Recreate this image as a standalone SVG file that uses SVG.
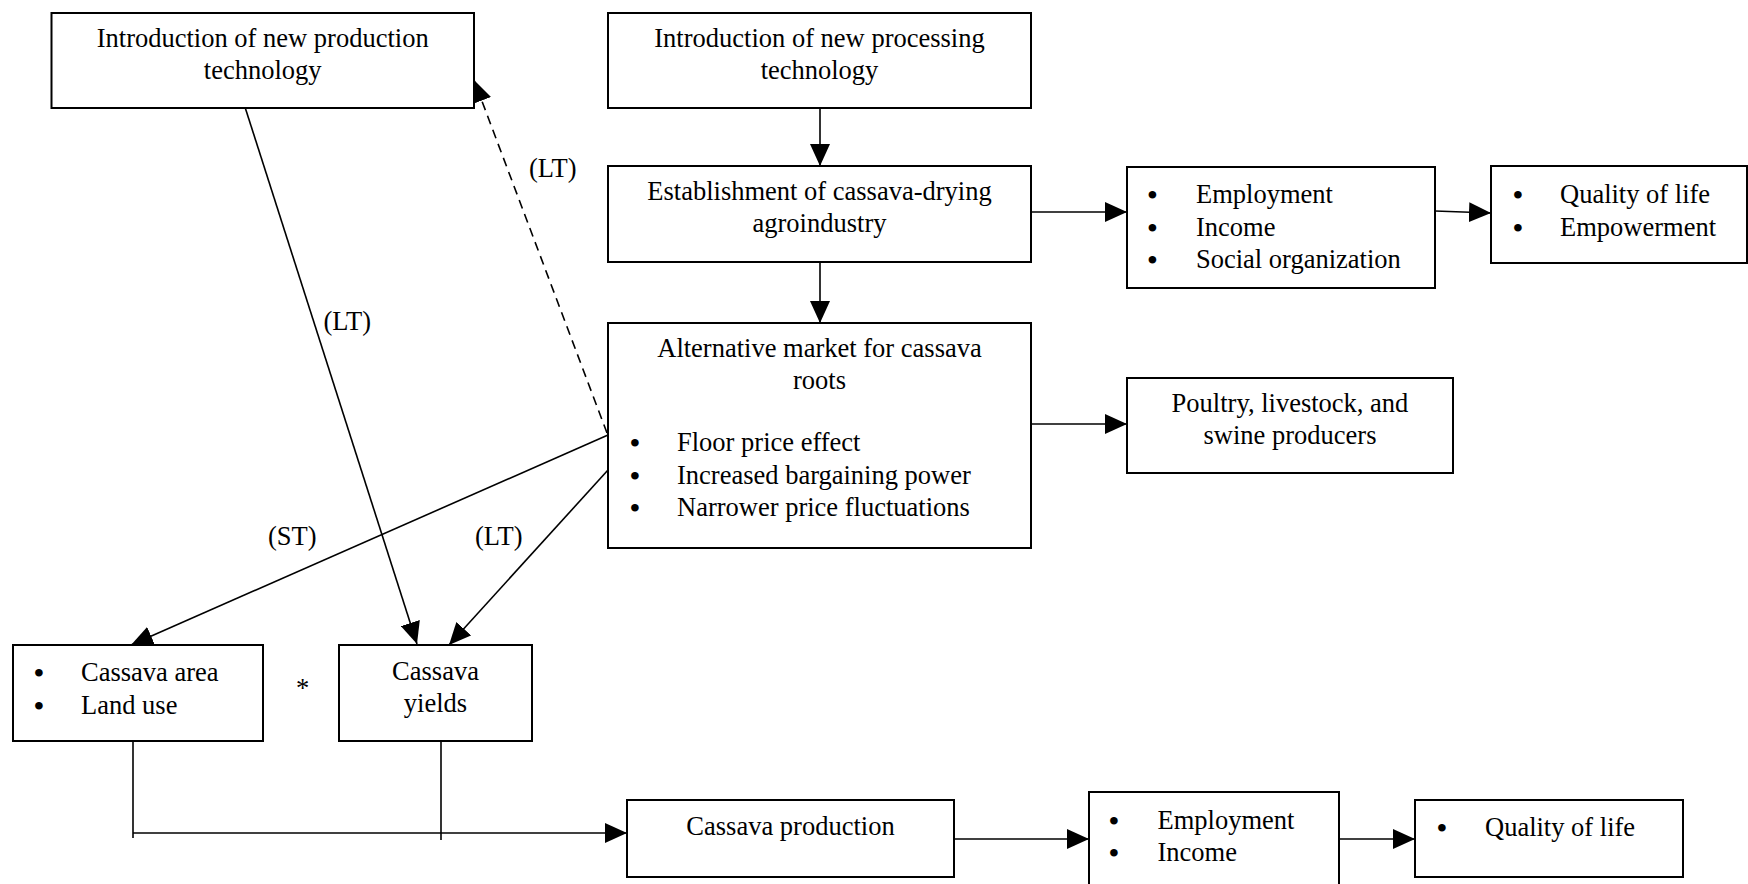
<svg xmlns="http://www.w3.org/2000/svg" width="1748" height="884" viewBox="0 0 1748 884">
<defs>
<marker id="ah" markerUnits="userSpaceOnUse" markerWidth="22" markerHeight="20" refX="22" refY="10" orient="auto"><path d="M0,0 L22,10 L0,20 z" fill="#000"/></marker>
</defs>
<style>
.box{fill:#fff;stroke:#000;stroke-width:2}
text{font-family:"Liberation Serif","Times New Roman",serif;font-size:26.5px;fill:#000}
.c{text-anchor:middle}
.b{text-anchor:middle;font-weight:bold;font-size:28px}
.ln{stroke:#000;stroke-width:1.6;fill:none}
.arr{marker-end:url(#ah)}
.dash{stroke-dasharray:9 6}
</style>
<rect x="0" y="0" width="1748" height="884" fill="#fff"/>
<g id="connectors">
<line class="ln arr" x1="820" y1="108" x2="820" y2="166"/>
<line class="ln arr" x1="820" y1="262" x2="820" y2="323"/>
<line class="ln arr" x1="1031" y1="212" x2="1127" y2="212"/>
<line class="ln arr" x1="1435" y1="211" x2="1491" y2="213"/>
<line class="ln arr" x1="1031" y1="424" x2="1127" y2="424"/>
<line class="ln arr" x1="244" y1="104" x2="417" y2="644"/>
<line class="ln arr dash" x1="607" y1="433" x2="474" y2="80"/>
<line class="ln arr" x1="608" y1="435" x2="131" y2="645"/>
<line class="ln arr" x1="608" y1="470" x2="449" y2="645"/>
<line class="ln" x1="133" y1="741" x2="133" y2="838"/>
<line class="ln" x1="441" y1="741" x2="441" y2="840"/>
<line class="ln arr" x1="133" y1="833" x2="627" y2="833"/>
<line class="ln arr" x1="954" y1="839" x2="1089" y2="839"/>
<line class="ln arr" x1="1339" y1="839" x2="1415" y2="839"/>
<text x="323.5" y="330">(LT)</text>
<text x="529" y="177">(LT)</text>
<text x="268" y="545">(ST)</text>
<text x="475" y="545">(LT)</text>
</g>
<g id="n-prod-tech">
<rect class="box" x="51.5" y="13" width="422.5" height="95"/>
<text class="c" x="262.7" y="47">Introduction of new production</text>
<text class="c" x="262.7" y="79">technology</text>
</g>
<g id="n-proc-tech">
<rect class="box" x="608" y="13" width="423" height="95"/>
<text class="c" x="819.5" y="47">Introduction of new processing</text>
<text class="c" x="819.5" y="79">technology</text>
</g>
<g id="n-agroindustry">
<rect class="box" x="608" y="166" width="423" height="96"/>
<text class="c" x="819.5" y="200">Establishment of cassava-drying</text>
<text class="c" x="819.5" y="232">agroindustry</text>
</g>
<g id="n-market">
<rect class="box" x="608" y="323" width="423" height="225"/>
<text class="c" x="819.5" y="357">Alternative market for cassava</text>
<text class="c" x="819.5" y="389">roots</text>
<text class="b" x="635" y="452">•</text><text x="677" y="451">Floor price effect</text>
<text class="b" x="635" y="485">•</text><text x="677" y="484">Increased bargaining power</text>
<text class="b" x="635" y="517">•</text><text x="677" y="516">Narrower price fluctuations</text>
</g>
<g id="n-employment1">
<rect class="box" x="1127" y="167" width="308" height="121"/>
<text class="b" x="1152.5" y="204">•</text><text x="1196" y="203">Employment</text>
<text class="b" x="1152.5" y="237">•</text><text x="1196" y="236">Income</text>
<text class="b" x="1152.5" y="269">•</text><text x="1196" y="268">Social organization</text>
</g>
<g id="n-quality1">
<rect class="box" x="1491" y="166" width="256" height="97"/>
<text class="b" x="1518" y="204">•</text><text x="1560" y="203">Quality of life</text>
<text class="b" x="1518" y="237">•</text><text x="1560" y="236">Empowerment</text>
</g>
<g id="n-poultry">
<rect class="box" x="1127" y="378" width="326" height="95"/>
<text class="c" x="1290" y="412">Poultry, livestock, and</text>
<text class="c" x="1290" y="444">swine producers</text>
</g>
<g id="n-area">
<rect class="box" x="13" y="645" width="250" height="96"/>
<text class="b" x="39" y="682">•</text><text x="81" y="681">Cassava area</text>
<text class="b" x="39" y="715">•</text><text x="81" y="714">Land use</text>
</g>
<text x="302.6" y="697" class="c">*</text>
<g id="n-yields">
<rect class="box" x="339" y="645" width="193" height="96"/>
<text class="c" x="435.5" y="680">Cassava</text>
<text class="c" x="435.5" y="712">yields</text>
</g>
<g id="n-production">
<rect class="box" x="627" y="800" width="327" height="77"/>
<text class="c" x="790.5" y="835">Cassava production</text>
</g>
<g id="n-employment2">
<rect class="box" x="1089" y="792" width="250" height="110"/>
<text class="b" x="1114" y="830">•</text><text x="1157.5" y="829">Employment</text>
<text class="b" x="1114" y="862">•</text><text x="1157.5" y="861">Income</text>
</g>
<g id="n-quality2">
<rect class="box" x="1415" y="800" width="268" height="77"/>
<text class="b" x="1442" y="837">•</text><text x="1485" y="836">Quality of life</text>
</g>
</svg>
